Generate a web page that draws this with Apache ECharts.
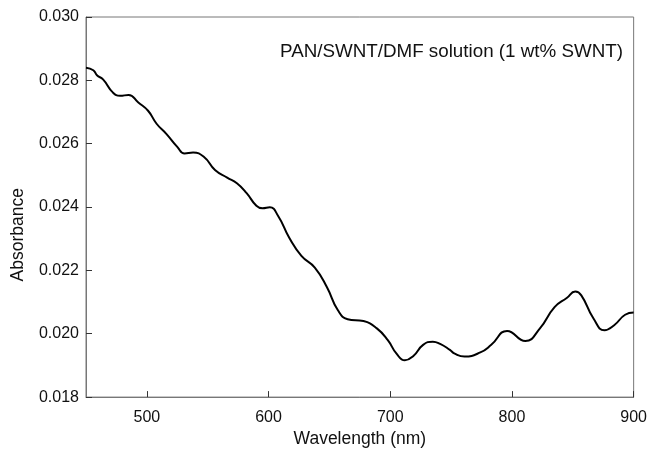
<!DOCTYPE html>
<html><head><meta charset="utf-8">
<script src="https://cdn.jsdelivr.net/npm/echarts@6/dist/echarts.min.js"></script>
<style>html,body{margin:0;padding:0;background:#fff}#c{width:650px;height:453px}</style>
</head><body><div id="c"></div>
<script>
var wavelength = [450,456,459,464,472,478,485,493,501,508,516,525,531,538,547,556,566,574,582,590,595,601,608,617,627,638,648,657,665,678,689,698,705,712,719,727,735,741,749,753,761,774,783,796,811,823,835,845,852,857,867,876,884,893,900];
var absorbance = [0.02840,0.02832,0.02816,0.02803,0.02762,0.02751,0.02754,0.02730,0.02704,0.02663,0.02631,0.02590,0.02569,0.02572,0.02558,0.02517,0.02493,0.02475,0.02444,0.02404,0.02396,0.02399,0.02371,0.02303,0.02246,0.02209,0.02147,0.02074,0.02046,0.02040,0.02017,0.01980,0.01938,0.01916,0.01930,0.01965,0.01975,0.01968,0.01949,0.01937,0.01928,0.01941,0.01965,0.02009,0.01977,0.02017,0.02084,0.02113,0.02133,0.02121,0.02048,0.02011,0.02027,0.02060,0.02067];
var xTicks = [500,600,700,800,900];
var yTicks = ['0.018','0.020','0.022','0.024','0.026','0.028','0.030'];
var annotation = 'PAN/SWNT/DMF solution (1 wt% SWNT)';
var xName = 'Wavelength (nm)';
var yName = 'Absorbance';

var data = wavelength.map(function(w,i){return [w, absorbance[i]];});
var chart = echarts.init(document.getElementById('c'), null, {renderer:'canvas'});
var font = 'Liberation Sans, Arial, sans-serif';
chart.setOption({
  animation:false,
  backgroundColor:'#fff',
  title:{text:annotation,left:275,top:37,textStyle:{fontFamily:font,fontSize:18.8,fontWeight:'normal',color:'#111'}},
  graphic:[{type:'text',left:9,top:188,rotation:Math.PI/2,
    style:{text:yName,fontFamily:font,fontSize:17.5,fill:'#111'}}],
  grid:{left:86,right:16,top:17,bottom:52,show:true,borderColor:'#777',borderWidth:1,backgroundColor:'transparent'},
  xAxis:{type:'value',min:450,max:900,interval:50,
    name:xName,nameLocation:'middle',nameGap:31,
    nameTextStyle:{fontFamily:font,fontSize:17.5,color:'#111'},
    axisLine:{show:true,lineStyle:{color:'#777',width:1}},
    axisTick:{show:true,inside:true,length:6,lineStyle:{color:'#333'},customValues:xTicks},
    axisLabel:{fontFamily:font,fontSize:16,color:'#111',margin:12,customValues:xTicks},
    splitLine:{show:false}},
  yAxis:{type:'value',min:0.018,max:0.030,interval:0.002,
    axisLine:{show:true,lineStyle:{color:'#777',width:1}},
    axisTick:{show:true,inside:true,length:6,lineStyle:{color:'#333'}},
    axisLabel:{fontFamily:font,fontSize:16,color:'#111',margin:7,
      formatter:function(v){var s=v.toFixed(3);return yTicks.indexOf(s)>=0?s:'';}},
    splitLine:{show:false}},
  series:[{type:'line',data:data,smooth:0.5,showSymbol:false,
    lineStyle:{color:'#000',width:2}}]
});
</script></body></html>
